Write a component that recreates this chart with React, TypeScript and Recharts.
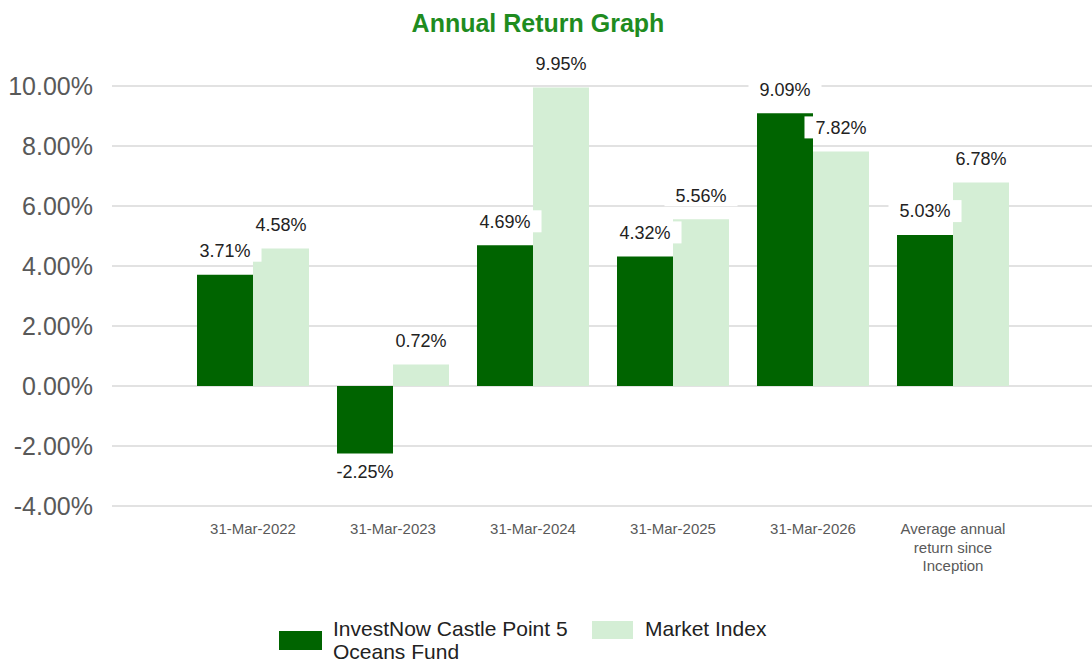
import React from 'react';
import { BarChart, Bar, XAxis, YAxis, CartesianGrid, LabelList } from 'recharts';

const categories = ['31-Mar-2022', '31-Mar-2023', '31-Mar-2024', '31-Mar-2025', '31-Mar-2026', 'Average annual\nreturn since\nInception'];
const fundValues = [3.71, -2.25, 4.69, 4.32, 9.09, 5.03];
const marketValues = [4.58, 0.72, 9.95, 5.56, 7.82, 6.78];
const yTicks = [-4, -2, 0, 2, 4, 6, 8, 10];
const seriesNames = ['InvestNow Castle Point 5 Oceans Fund', 'Market Index'];
const colors = ['#006400', '#d4eed5'];

const data = categories.map((c, i) => ({ category: c, fund: fundValues[i], market: marketValues[i] }));

const FONT = '"Liberation Sans", Arial, sans-serif';

const charW = (ch: string) => {
  if (ch === '.') return 0.278;
  if (ch === '%') return 0.889;
  if (ch === '-') return 0.333;
  return 0.556;
};

const DataLabel = (props: any) => {
  const { x, y, width, height, value } = props;
  const v = Number(value);
  const text = v.toFixed(2) + '%';
  const fs = 18;
  const tw = text.split('').reduce((s, ch) => s + charW(ch) * fs, 0);
  const top = Math.min(y, y + height);
  const bottom = Math.max(y, y + height);
  const cx = x + width / 2;
  const cy = v >= 0 ? top - 24 : bottom + 18.5;
  return (
    <g>
      <rect x={cx - tw / 2 - 11} y={cy - 11} width={tw + 22} height={22} fill="#ffffff" />
      <text x={cx} y={cy} dy="0.35em" textAnchor="middle" fontSize={fs} fontFamily={FONT} fill="#222">
        {text}
      </text>
    </g>
  );
};

const XTick = (props: any) => {
  const { x, y, payload } = props;
  const lines = String(payload.value).split('\n');
  return (
    <g>
      {lines.map((l, i) => (
        <text key={i} x={x} y={y + 21 + i * 18.5} dy="0.35em" textAnchor="middle" fontSize={15} fontFamily={FONT} fill="#595959">
          {l}
        </text>
      ))}
    </g>
  );
};

export default function App() {
  return (
    <div style={{ position: 'absolute', left: 0, top: 0, width: 1092, height: 663, background: '#fff', fontFamily: FONT, overflow: 'hidden' }}>
      <div style={{ position: 'absolute', left: 338, width: 400, top: 8, textAlign: 'center', fontSize: 25, fontWeight: 'bold', color: '#1f8c1f', lineHeight: '30px' }}>
        Annual Return Graph
      </div>
      <BarChart
        width={1092}
        height={663}
        data={data}
        margin={{ top: 86, right: 0, left: 0, bottom: 0 }}
        barCategoryGap="10%"
        barGap={0}
      >
        <CartesianGrid vertical={false} stroke="#d9d9d9" strokeWidth={1.5} />
        <XAxis
          dataKey="category"
          height={157}
          axisLine={false}
          tickLine={false}
          tickSize={0}
          padding={{ left: 71, right: 69 }}
          interval={0}
          tick={<XTick />}
        />
        <YAxis
          width={112}
          domain={[-4, 10]}
          ticks={yTicks}
          axisLine={false}
          tickLine={false}
          tickSize={0}
          tickMargin={19}
          tickFormatter={(v: number) => v.toFixed(2) + '%'}
          tick={{ fontSize: 25, fill: '#595959', fontFamily: FONT }}
          interval={0}
        />
        <Bar dataKey="fund" name={seriesNames[0]} fill={colors[0]} isAnimationActive={false}>
          <LabelList dataKey="fund" content={<DataLabel />} />
        </Bar>
        <Bar dataKey="market" name={seriesNames[1]} fill={colors[1]} isAnimationActive={false}>
          <LabelList dataKey="market" content={<DataLabel />} />
        </Bar>
      </BarChart>
      <div style={{ position: 'absolute', left: 279, top: 617, display: 'flex', alignItems: 'flex-start', fontSize: 21, color: '#222', lineHeight: '23px' }}>
        <div style={{ width: 43, height: 19, background: colors[0], marginTop: 13.5, marginRight: 11 }} />
        <div style={{ width: 250 }}>{seriesNames[0]}</div>
        <div style={{ width: 41, height: 18, background: colors[1], marginTop: 4, marginLeft: 9, marginRight: 12 }} />
        <div style={{ whiteSpace: 'nowrap' }}>{seriesNames[1]}</div>
      </div>
    </div>
  );
}
